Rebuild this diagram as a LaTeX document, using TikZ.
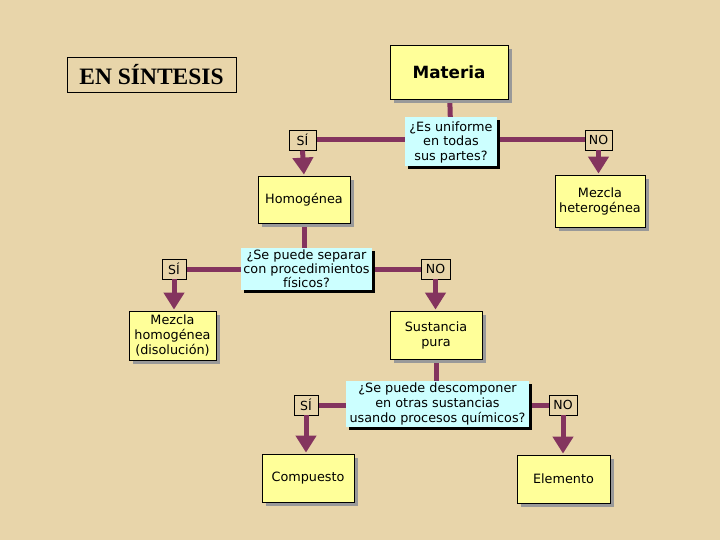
\documentclass[tikz,border=0pt]{standalone}
\usepackage{fontspec}
\setmainfont{DejaVu Sans}
\newfontfamily\serifbold{Liberation Serif}
\usetikzlibrary{arrows.meta,shadows}
\definecolor{parch}{RGB}{232,213,170}
\definecolor{plum}{RGB}{132,52,94}
\definecolor{boxyellow}{RGB}{255,255,153}
\definecolor{boxcyan}{RGB}{204,255,255}
\pgfdeclarelayer{bg}
\pgfdeclarelayer{back}
\pgfsetlayers{back,bg,main}
\tikzset{
  ybox/.style={draw=black, line width=0.8pt, fill=boxyellow, align=center, inner sep=1pt,
    font=\fontsize{12.8}{15}\selectfont,
    drop shadow={shadow xshift=4pt, shadow yshift=-4pt, fill=black!40, opacity=1}},
  qbox/.style={fill=boxcyan, align=center, inner sep=0pt,
    font=\fontsize{12.8}{15}\selectfont,
    drop shadow={shadow xshift=3pt, shadow yshift=-3pt, fill=black, opacity=1}},
  lbl/.style={draw=black, line width=0.8pt, fill=parch, inner sep=1pt, minimum height=20pt,
    font=\fontsize{12.5}{14}\selectfont},
  conn/.style={draw=plum, line width=5pt},
  arr/.style={draw=plum, line width=5pt, -{Triangle[width=20pt,length=17pt]}, shorten >=1pt},
}
\begin{document}
\begin{tikzpicture}[x=1pt,y=-1pt]
\begin{pgfonlayer}{back}
\fill[parch] (0,0) rectangle (720,540);
\end{pgfonlayer}
\useasboundingbox (0,0) rectangle (720,540);

\node[draw=black, line width=0.8pt, minimum width=169pt, minimum height=35pt, inner sep=0pt,
  font=\serifbold\bfseries\fontsize{23.5}{26}\selectfont] (sint) at (151.5,74.5) {EN SÍNTESIS};

\node[ybox, minimum width=118pt, minimum height=54pt, font=\bfseries\fontsize{16.8}{19}\selectfont] (mat) at (449,72) {Materia};
\node[qbox, minimum width=92pt, minimum height=49pt, font=\fontsize{12.8}{14.5}\selectfont] (q1) at (451,142) {¿Es uniforme\\en todas\\sus partes?};
\node[lbl, minimum width=27pt] (si1) at (302.5,140) {SÍ};
\node[lbl, minimum width=27pt] (no1) at (598.5,140) {NO};
\node[ybox, minimum width=92pt, minimum height=47pt] (hom) at (304,199.5) {Homogénea};
\node[ybox, minimum width=90pt, minimum height=52pt] (het) at (600,201) {Mezcla\\heterogénea};

\node[qbox, minimum width=131pt, minimum height=42pt, font=\fontsize{12.8}{14}\selectfont] (q2) at (306.5,269) {¿Se puede separar\\con procedimientos\\físicos?};
\node[lbl, minimum width=24pt] (si2) at (174,269) {SÍ};
\node[lbl, minimum width=29pt] (no2) at (435.5,269) {NO};
\node[ybox, minimum width=87pt, minimum height=49pt] (mhom) at (172.5,335.5) {Mezcla\\homogénea\\(disolución)};
\node[ybox, minimum width=92pt, minimum height=48pt] (pura) at (436,335) {Sustancia\\pura};

\node[qbox, minimum width=183pt, minimum height=46pt] (q3) at (437.5,404) {¿Se puede descomponer\\en otras sustancias\\usando procesos químicos?};
\node[lbl, minimum width=24pt] (si3) at (306,405) {SÍ};
\node[lbl, minimum width=28pt] (no3) at (563,405) {NO};
\node[ybox, minimum width=92pt, minimum height=48pt] (comp) at (308,478) {Compuesto};
\node[ybox, minimum width=93pt, minimum height=48pt] (elem) at (563.5,479) {Elemento};

\begin{pgfonlayer}{bg}
\draw[conn] (mat) -- (q1);
\draw[conn] (si1) -- (no1);
\draw[conn] (hom) -- (hom |- q2.north);
\draw[conn] (si2) -- (no2);
\draw[conn] (pura) -- (pura |- q3.north);
\draw[conn] (si3) -- (no3);
\end{pgfonlayer}
\draw[arr] (si1.south) -- (hom.north);
\draw[arr] (no1.south) -- (no1.south |- het.north);
\draw[arr] (si2.south) -- (si2.south |- mhom.north);
\draw[arr] (no2.south) -- (no2.south |- pura.north);
\draw[arr] (si3.south) -- (si3.south |- comp.north);
\draw[arr] (no3.south) -- (no3.south |- elem.north);
\end{tikzpicture}
\end{document}
